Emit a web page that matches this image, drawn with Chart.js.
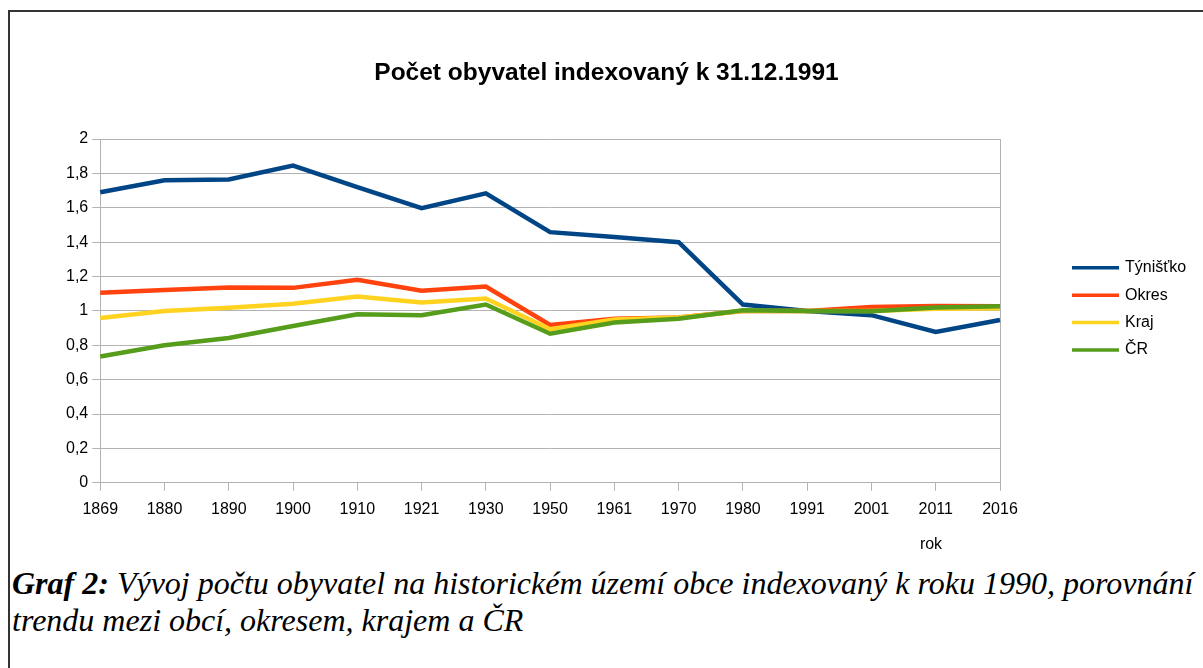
<!DOCTYPE html>
<html>
<head>
<meta charset="utf-8">
<script src="https://cdn.jsdelivr.net/npm/chart.js@4"></script>
<style>
    body { margin: 0; background: #fff; overflow: hidden; }
    #ramecek {
        position: absolute; left: 8px; top: 10px; width: 1300px; height: 700px;
        border-left: 2px solid #333; border-top: 2px solid #333;
    }
    #graf-box { position: absolute; left: 10px; top: 12px; width: 1193px; height: 548px; }
    #popisek {
        position: absolute; left: 12px; top: 565px; width: 1190px;
        font-family: 'Liberation Serif', 'Times New Roman', serif; font-style: italic;
        font-size: 32px; line-height: 37px; color: #000; white-space: nowrap;
    }
</style>
</head>
<body>
<div id="ramecek"></div>
<div id="graf-box"><canvas id="graf-obyvatel"></canvas></div>
<div id="popisek"><b>Graf 2:</b> Vývoj počtu obyvatel na historickém území obce indexovaný k roku 1990, porovnání<br>trendu mezi obcí, okresem, krajem a ČR</div>

<script>
// ------------- DATA -------------
var roky = ['1869', '1880', '1890', '1900', '1910', '1921', '1930', '1950', '1961', '1970', '1980', '1991', '2001', '2011', '2016'];
var tynistko = [1.69, 1.76, 1.765, 1.845, 1.72, 1.598, 1.684, 1.458, 1.43, 1.40, 1.037, 1.0, 0.975, 0.877, 0.947];
var okres = [1.105, 1.121, 1.136, 1.134, 1.181, 1.117, 1.142, 0.918, 0.955, 0.962, 1.0, 1.0, 1.022, 1.028, 1.027];
var kraj = [0.959, 1.0, 1.019, 1.041, 1.084, 1.049, 1.072, 0.893, 0.95, 0.962, 1.0, 1.0, 1.0, 1.013, 1.015];
var cr = [0.735, 0.80, 0.842, 0.912, 0.981, 0.975, 1.037, 0.867, 0.932, 0.955, 1.004, 1.0, 0.998, 1.02, 1.027];
var popisky = ['Týnišťko', 'Okres', 'Kraj', 'ČR'];
var barvy = ['#004586', '#ff420e', '#ffd320', '#579d1c'];
var nadpis = 'Počet obyvatel indexovaný k 31.12.1991';

var sedaMrizka = '#b3b3b3';
var pismo = "'Liberation Sans', Arial, sans-serif";

// nadpis, legenda a popisek osy "rok" kreslene rucne
var legendaPlugin = {
    id: 'legendaVpravo',
    afterDraw: function (chart) {
        var ctx = chart.ctx;
        var area = chart.chartArea;
        var stred = (area.top + area.bottom) / 2 - 2;
        ctx.save();
        ctx.fillStyle = '#000';
        ctx.textBaseline = 'middle';

        ctx.font = 'bold 24.5px ' + pismo;
        ctx.textAlign = 'center';
        ctx.fillText(nadpis, chart.width / 2, 61);

        ctx.font = '16px ' + pismo;
        ctx.textAlign = 'left';
        chart.data.datasets.forEach(function (ds, i) {
            var y = stred + (i - 1.5) * 27.4;
            ctx.strokeStyle = ds.borderColor;
            ctx.lineWidth = 3.5;
            ctx.beginPath();
            ctx.moveTo(area.right + 72, y);
            ctx.lineTo(area.right + 119, y);
            ctx.stroke();
            ctx.fillText(ds.label, area.right + 125, y);
        });
        ctx.textAlign = 'center';
        ctx.fillText('rok', area.right - 69, area.bottom + 62);
        ctx.restore();
    }
};

function formatCisla(v) {
    return String(Math.round(v * 10) / 10).replace('.', ',');
}

var ctx = document.getElementById('graf-obyvatel');
var chart = new Chart(ctx, {
    type: 'line',
    data: {
        labels: roky,
        datasets: [
            { label: popisky[0], data: tynistko, borderColor: barvy[0], backgroundColor: barvy[0], order: 3 },
            { label: popisky[1], data: okres, borderColor: barvy[1], backgroundColor: barvy[1], order: 2 },
            { label: popisky[2], data: kraj, borderColor: barvy[2], backgroundColor: barvy[2], order: 1 },
            { label: popisky[3], data: cr, borderColor: barvy[3], backgroundColor: barvy[3], order: 0 }
        ]
    },
    options: {
        responsive: true,
        maintainAspectRatio: false,
        animation: false,
        elements: {
            line: { borderWidth: 4.5, tension: 0, fill: false },
            point: { radius: 0, hoverRadius: 0 }
        },
        layout: { padding: { left: 52, right: 203, top: 127, bottom: 32 } },
        plugins: {
            legend: { display: false },
            tooltip: { enabled: false },
            title: { display: false }
        },
        scales: {
            x: {
                offset: false,
                grid: {
                    color: function (c) { return c.index === roky.length - 1 ? sedaMrizka : 'rgba(0,0,0,0)'; },
                    tickColor: sedaMrizka,
                    tickLength: 8,
                    lineWidth: 1
                },
                border: { color: sedaMrizka },
                ticks: {
                    color: '#000', padding: 9, maxRotation: 0, autoSkip: false,
                    font: { family: pismo, size: 16 }
                }
            },
            y: {
                min: 0,
                max: 2,
                grid: { color: sedaMrizka, tickColor: sedaMrizka, tickLength: 8 },
                border: { color: sedaMrizka },
                ticks: {
                    stepSize: 0.2, color: '#000', padding: 4,
                    font: { family: pismo, size: 16 },
                    callback: function (v) { return formatCisla(v); }
                }
            }
        }
    },
    plugins: [legendaPlugin]
});
</script>
</body>
</html>
